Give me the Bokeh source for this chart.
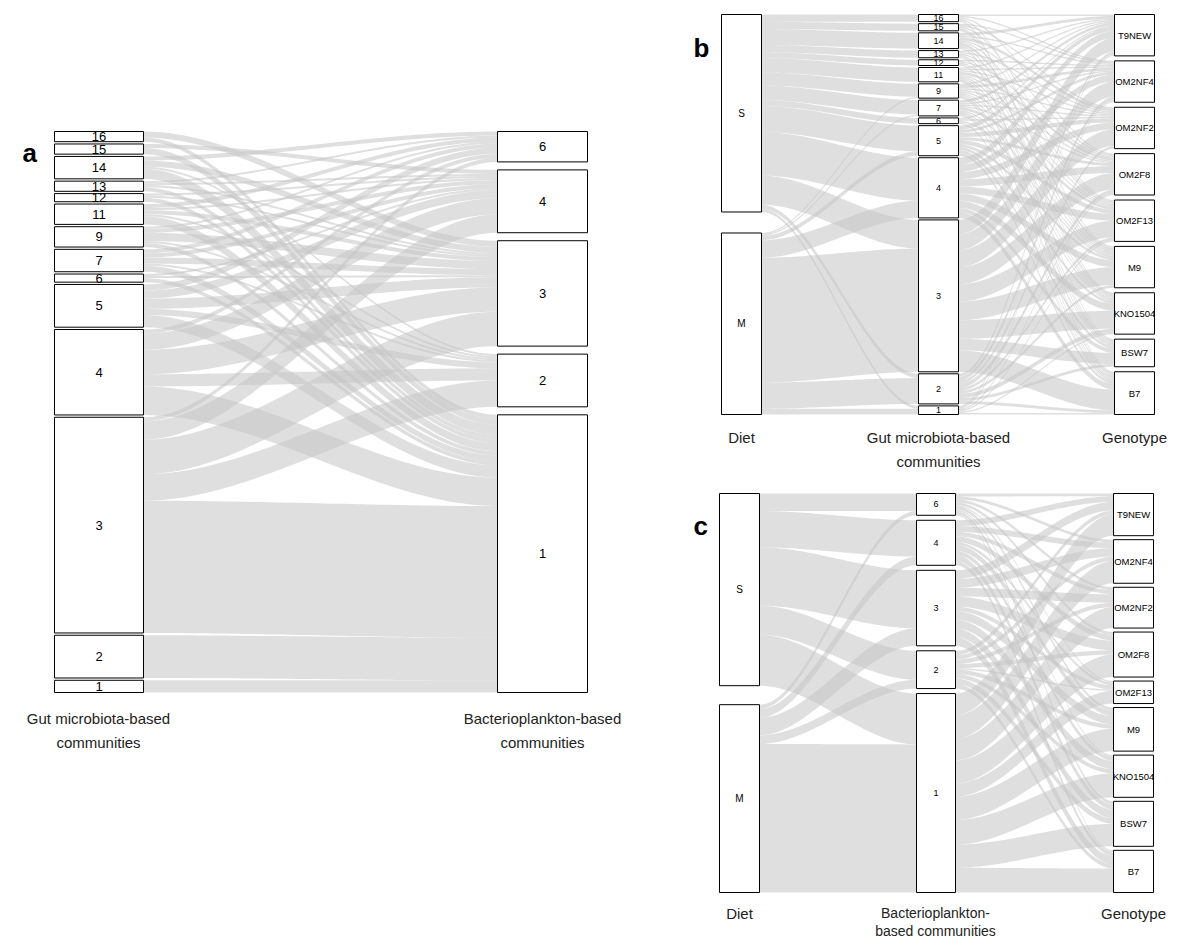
import numpy as np
from bokeh.plotting import figure
from bokeh.models import Range1d
from bokeh.core.properties import value
from bokeh.embed import file_html
from bokeh.resources import INLINE

# ---------------- data ----------------
gut_labels = ["16", "15", "14", "13", "12", "11", "9", "7", "6", "5", "4", "3", "2", "1"]
gut_counts = [5, 5, 11, 5, 4, 10, 10, 11, 4, 21, 42, 106, 21, 6]
bact_labels = ["6", "4", "3", "2", "1"]
bact_counts = [15, 31, 52, 26, 137]
diet_labels = ["S", "M"]
geno_labels = ["T9NEW", "OM2NF4", "OM2NF2", "OM2F8", "OM2F13", "M9", "KNO1504", "BSW7", "B7"]

# panel a: gut x bacterioplankton
gut_bact = [
    [0, 0, 3, 0, 2], [0, 2, 0, 0, 3], [2, 0, 3, 1, 5], [1, 1, 1, 0, 2], [0, 1, 1, 0, 2],
    [2, 1, 2, 1, 4], [1, 2, 4, 1, 2], [2, 2, 3, 1, 3], [0, 1, 1, 0, 2], [3, 4, 5, 3, 6],
    [2, 8, 12, 6, 14], [2, 9, 17, 13, 65], [0, 0, 0, 0, 21], [0, 0, 0, 0, 6],
]
# panel b
diet_gut = [
    [5, 5, 11, 5, 4, 10, 9, 10, 4, 18, 30, 20, 3, 2],
    [0, 0, 0, 0, 0, 0, 1, 1, 0, 3, 12, 86, 18, 4],
]
gut_geno = [
    [1, 1, 0, 1, 0, 1, 0, 0, 1], [0, 1, 1, 0, 1, 0, 1, 1, 0], [2, 1, 2, 1, 1, 2, 1, 0, 1],
    [1, 0, 1, 0, 1, 0, 1, 0, 1], [0, 1, 0, 1, 0, 1, 0, 1, 0], [1, 1, 1, 2, 1, 1, 1, 1, 1],
    [1, 2, 1, 1, 1, 1, 1, 1, 1], [2, 1, 1, 1, 2, 1, 1, 1, 1], [1, 0, 1, 0, 0, 1, 0, 0, 1],
    [3, 2, 3, 2, 3, 2, 2, 2, 2], [5, 5, 5, 5, 5, 5, 5, 3, 4], [10, 11, 12, 12, 12, 13, 13, 8, 15],
    [2, 3, 2, 3, 2, 2, 3, 2, 2], [1, 1, 0, 1, 1, 0, 1, 0, 1],
]
# panel c
diet_bact = [[12, 25, 40, 20, 35], [3, 6, 12, 6, 102]]
bact_geno = [
    [2, 2, 2, 2, 1, 2, 1, 2, 1], [4, 4, 3, 4, 2, 4, 3, 4, 3], [6, 6, 6, 7, 3, 6, 6, 6, 6],
    [3, 3, 3, 3, 1, 3, 3, 4, 3], [15, 16, 15, 16, 9, 16, 17, 16, 17],
]

FONT = value("Liberation Sans")

p = figure(width=1169, height=941, output_backend="svg", toolbar_location=None,
           x_range=Range1d(0, 1169), y_range=Range1d(941, 0), min_border=0)
p.axis.visible = False
p.grid.visible = False
p.outline_line_color = None


def stack(counts, top, bot, gap):
    n = len(counts)
    s = (bot - top - gap * (n - 1)) / sum(counts)
    pos, y = [], top
    for c in counts:
        pos.append((y, y + c * s))
        y += c * s + gap
    return pos, s


def flows(M, spos, ss, tpos, ts, xa, xb):
    xs, ys = [], []
    tptr = [t[0] for t in tpos]
    sptr = [s[0] for s in spos]
    incoming = {}
    for j in range(len(tpos)):
        for i in range(len(spos)):
            if M[i][j] > 0:
                incoming[(i, j)] = (tptr[j], tptr[j] + M[i][j] * ts)
                tptr[j] += M[i][j] * ts
    t = np.linspace(0, 1, 40)
    f = 3 * t ** 2 - 2 * t ** 3
    for i in range(len(spos)):
        for j in range(len(tpos)):
            if M[i][j] <= 0:
                continue
            a0, a1 = sptr[i], sptr[i] + M[i][j] * ss
            sptr[i] = a1
            b0, b1 = incoming[(i, j)]
            xx = xa + (xb - xa) * t
            top = a0 + (b0 - a0) * f
            bot = a1 + (b1 - a1) * f
            xs.append(list(xx) + list(xx[::-1]))
            ys.append(list(top) + list(bot[::-1]))
    p.patches(xs, ys, fill_color="#c4c4c4", fill_alpha=0.55, line_color=None)


def boxes(pos, labels, x0, x1, fs):
    p.quad(left=[x0] * len(pos), right=[x1] * len(pos), top=[a for a, b in pos],
           bottom=[b for a, b in pos], fill_color="white", line_color="black", line_width=1)
    p.text(x=[(x0 + x1) / 2] * len(pos), y=[(a + b) / 2 for a, b in pos], text=labels,
           text_font=FONT, text_font_size=fs, text_align="center", text_baseline="middle",
           text_color="black")


def label(x, y, lines, fs="15px", step=24):
    p.text(x=[x] * len(lines), y=[y + k * step for k in range(len(lines))], text=lines,
           text_font=FONT, text_font_size=fs, text_align="center", text_baseline="middle",
           text_color="#222222")


# ---- panel a
gA, gsA = stack(gut_counts, 131, 692, 2.3)
bA, bsA = stack(bact_counts, 131, 692, 8)
flows(gut_bact, gA, gsA, bA, bsA, 143, 497)
boxes(gA, gut_labels, 54, 143, "13px")
boxes(bA, bact_labels, 497, 587, "13px")
label(98, 718, ["Gut microbiota-based", "communities"])
label(542, 718, ["Bacterioplankton-based", "communities"])

# ---- panel b
dB, dsB = stack([sum(r) for r in diet_gut], 14, 414, 21)
gB, gsB = stack(gut_counts, 14, 414, 2)
genB = [sum(r[j] for r in gut_geno) for j in range(9)]
eB, esB = stack(genB, 14, 414, 5)
flows(diet_gut, dB, dsB, gB, gsB, 761, 918)
flows(gut_geno, gB, gsB, eB, esB, 958, 1114)
boxes(dB, diet_labels, 721, 761, "10px")
boxes(gB, gut_labels, 918, 958, "9px")
boxes(eB, geno_labels, 1114, 1154, "9.5px")
label(741, 437, ["Diet"])
label(938, 437, ["Gut microbiota-based", "communities"])
label(1134, 437, ["Genotype"])

# ---- panel c
dC, dsC = stack([sum(r) for r in diet_bact], 493, 892, 19)
bC, bsC = stack(bact_counts, 493, 892, 5)
genC = [sum(r[j] for r in bact_geno) for j in range(9)]
eC, esC = stack(genC, 493, 892, 4)
flows(diet_bact, dC, dsC, bC, bsC, 759, 916)
flows(bact_geno, bC, bsC, eC, esC, 955, 1113)
boxes(dC, diet_labels, 719, 759, "10px")
boxes(bC, bact_labels, 916, 955, "9px")
boxes(eC, geno_labels, 1113, 1153, "9.5px")
label(739, 913, ["Diet"])
label(935, 912, ["Bacterioplankton-", "based communities"], fs="14px", step=18)
label(1133, 913, ["Genotype"])

# panel letters
p.text(x=[22, 693, 693], y=[152, 47, 525], text=["a", "b", "c"], text_font=value("Liberation Sans"),
       text_font_size="26px", text_font_style="bold", text_align="left", text_baseline="middle",
       text_color="black")

open("out.html", "w").write(file_html(p, INLINE))
